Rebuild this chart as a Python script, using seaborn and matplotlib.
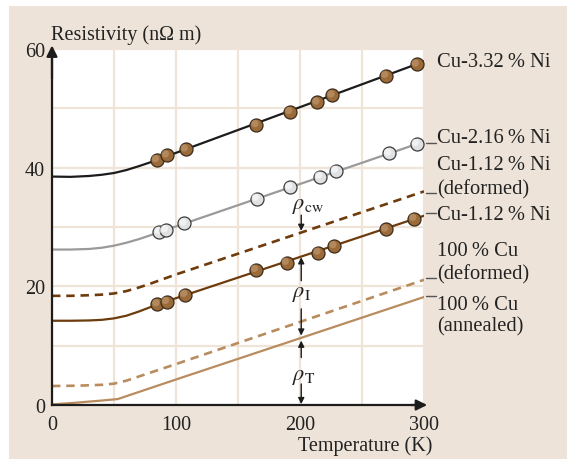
import numpy as np
import pandas as pd
import matplotlib
matplotlib.use('Agg')
import matplotlib.pyplot as plt
import seaborn as sns
from matplotlib.patches import Rectangle
from matplotlib.transforms import ScaledTranslation

# ---- curves (T in K, resistivity in nOhm m) ----
t_ni332 = [0, 15, 30, 40, 50, 60, 70, 80, 90, 100, 300]
r_ni332 = [38.5, 38.45, 38.6, 38.8, 39.1, 39.6, 40.25, 40.95, 41.7, 42.5, 57.9]
t_ni216 = [0, 15, 30, 40, 50, 60, 70, 80, 90, 100, 300]
r_ni216 = [26.2, 26.2, 26.3, 26.5, 26.85, 27.35, 27.95, 28.65, 29.4, 30.1, 44.4]
t_ni112d = [0, 15, 30, 40, 50, 60, 70, 80, 90, 100, 300]
r_ni112d = [18.4, 18.4, 18.5, 18.6, 18.8, 19.2, 19.8, 20.5, 21.25, 22.0, 36.0]
t_ni112 = [0, 15, 30, 40, 50, 60, 70, 80, 90, 100, 300]
r_ni112 = [14.2, 14.2, 14.25, 14.35, 14.6, 15.05, 15.75, 16.55, 17.3, 18.0, 31.9]
t_cud = [0, 20, 40, 50, 60, 70, 80, 100, 300]
r_cud = [3.2, 3.25, 3.4, 3.6, 4.1, 4.8, 5.5, 6.9, 21.1]
t_cua = [0, 20, 40, 53, 100, 300]
r_cua = [0.1, 0.4, 0.75, 1.0, 4.3, 18.2]

# ---- measured points ----
pt_ni332_T = [84.4, 92.5, 107.8, 164.8, 192, 213.9, 226, 269.4, 294]
pt_ni332_R = [41.3, 42.1, 43.1, 47.2, 49.4, 51.0, 52.2, 55.5, 57.4]
pt_ni216_T = [86.5, 91.7, 106.7, 165, 192, 216, 228.8, 271.8, 294]
pt_ni216_R = [29.2, 29.5, 30.6, 34.8, 36.7, 38.5, 39.5, 42.4, 44.0]
pt_ni112_T = [84.9, 92.5, 107.3, 164.3, 189.2, 214.8, 227.7, 269.4, 292]
pt_ni112_R = [17.0, 17.4, 18.6, 22.8, 24.0, 25.7, 26.8, 29.6, 31.4]

# ---- labels ----
x_ticks = [0, 100, 200, 300]
y_ticks = [0, 20, 40, 60]
label_texts = ["Cu-3.32\u2009% Ni", "Cu-2.16\u2009% Ni", "Cu-1.12\u2009% Ni", "(deformed)",
               "Cu-1.12\u2009% Ni", "100\u2009% Cu", "(deformed)", "100\u2009% Cu", "(annealed)"]
label_y = [57.9, 45.1, 40.45, 36.5, 32.1, 26.0, 22.1, 17.0, 13.3]
leader_y = [44.2, 35.7, 32.3, 21.35, 18.3]

sns.set_theme(style='white')
plt.rcParams['font.family'] = ['Liberation Serif', 'DejaVu Serif']
plt.rcParams['mathtext.fontset'] = 'stix'

W, H = 567, 460
fig = plt.figure(figsize=(W / 100, H / 100), dpi=100)
fig.patch.set_facecolor('white')
fig.patches.append(Rectangle((9 / W, 0), 1 - 9 / W, 1 - 7 / H, transform=fig.transFigure,
                             facecolor='#ede3d8', edgecolor='none', zorder=-10))

ax = fig.add_axes([52 / W, 1 - 406 / H, 372 / W, 356 / H])
ax.set_facecolor('white')
ax.set_xlim(0, 300)
ax.set_ylim(0, 60)

BLACK = '#1c1c1c'
GRAY = '#9a9a9a'
DBROWN = '#6e3b0c'
LBROWN = '#b98c5f'

def curve(t, r, color, ls='-', lw=1.6):
    df = pd.DataFrame({'T': t, 'R': r})
    sns.lineplot(data=df, x='T', y='R', ax=ax, color=color, lw=lw, linestyle=ls,
                 estimator=None, sort=False, zorder=3)

curve(t_ni332, r_ni332, BLACK)
curve(t_ni216, r_ni216, GRAY)
curve(t_ni112d, r_ni112d, DBROWN, ls=(0, (3.2, 2.2)), lw=1.9)
curve(t_ni112, r_ni112, DBROWN)
curve(t_cud, r_cud, LBROWN, ls=(0, (3.2, 2.2)), lw=1.9)
curve(t_cua, r_cua, LBROWN)

def points(t, r, face, edge, hi):
    df = pd.DataFrame({'T': t, 'R': r})
    sns.scatterplot(data=df, x='T', y='R', ax=ax, s=88, color=face, edgecolor=edge,
                    linewidth=0.9, zorder=5, clip_on=False)
    off = ax.transData + ScaledTranslation(-1.0 / 72, 1.0 / 72, fig.dpi_scale_trans)
    ax.scatter(t, r, s=28, color=hi, edgecolor='none', zorder=6, transform=off,
               alpha=0.55, clip_on=False)

points(pt_ni332_T, pt_ni332_R, '#9a6a38', '#3b2b1c', '#c9a27a')
points(pt_ni216_T, pt_ni216_R, '#dfe1e3', '#3b3b3b', '#ffffff')
points(pt_ni112_T, pt_ni112_R, '#9a6a38', '#3b2b1c', '#c9a27a')

# grid
ax.set_xticks(x_ticks)
ax.set_xticks([50, 150, 250], minor=True)
ax.set_yticks(y_ticks)
ax.set_yticks([10, 30, 50], minor=True)
ax.grid(True, which='both', color='#efe4d8', lw=1.6, zorder=0)
ax.set_axisbelow(True)
ax.tick_params(axis='both', which='both', length=0, labelsize=14.5, colors='#222222')
ax.tick_params(axis='x', pad=7)
ax.tick_params(axis='y', pad=5)
ax.set_xlabel('')
ax.set_ylabel('')

for s in ['top', 'right']:
    ax.spines[s].set_visible(False)
for s in ['left', 'bottom']:
    ax.spines[s].set_color(BLACK)
    ax.spines[s].set_linewidth(1.6)
    ax.spines[s].set_zorder(7)

ax.annotate('', xy=(0, 60.6), xytext=(0, 55), annotation_clip=False,
            arrowprops=dict(arrowstyle='-|>', color=BLACK, lw=1.6, mutation_scale=16, shrinkA=0, shrinkB=0))
ax.annotate('', xy=(302.5, 0), xytext=(290, 0), annotation_clip=False,
            arrowprops=dict(arrowstyle='-|>', color=BLACK, lw=1.6, mutation_scale=16, shrinkA=0, shrinkB=0))

# axis titles
fig.text(51 / W, 1 - 35 / H, 'Resistivity (n\u03a9 m)', ha='left', va='center', fontsize=14.5, color='#222222')
fig.text(432 / W, 1 - 446 / H, 'Temperature (K)', ha='right', va='center', fontsize=14.5, color='#222222')

# curve labels
for txt, y in zip(label_texts, label_y):
    ax.text(310.5, y, txt, ha='left', va='center', fontsize=14.8, color='#222222', clip_on=False)
for y in leader_y:
    ax.plot([301.5, 310], [y, y], color='#555555', lw=1.0, clip_on=False, zorder=4)

# rho annotations
def arr(y0, y1, x=201):
    ax.annotate('', xy=(x, y1), xytext=(x, y0), annotation_clip=False,
                arrowprops=dict(arrowstyle='-|>', color=BLACK, lw=1.0, mutation_scale=9,
                                shrinkA=0, shrinkB=0), zorder=8)

arr(32.0, 29.35)
arr(20.95, 24.9)
arr(16.2, 11.7)
arr(8.0, 10.85)
arr(3.55, 0.15)
ax.text(206, 33.2, r'$\rho_{\mathrm{cw}}$', ha='center', va='baseline', fontsize=16, color='#222222')
ax.text(201.5, 18.4, r'$\rho_{\mathrm{I}}$', ha='center', va='baseline', fontsize=16, color='#222222')
ax.text(203, 4.4, r'$\rho_{\mathrm{T}}$', ha='center', va='baseline', fontsize=16, color='#222222')

fig.savefig('out.png', dpi=100)
